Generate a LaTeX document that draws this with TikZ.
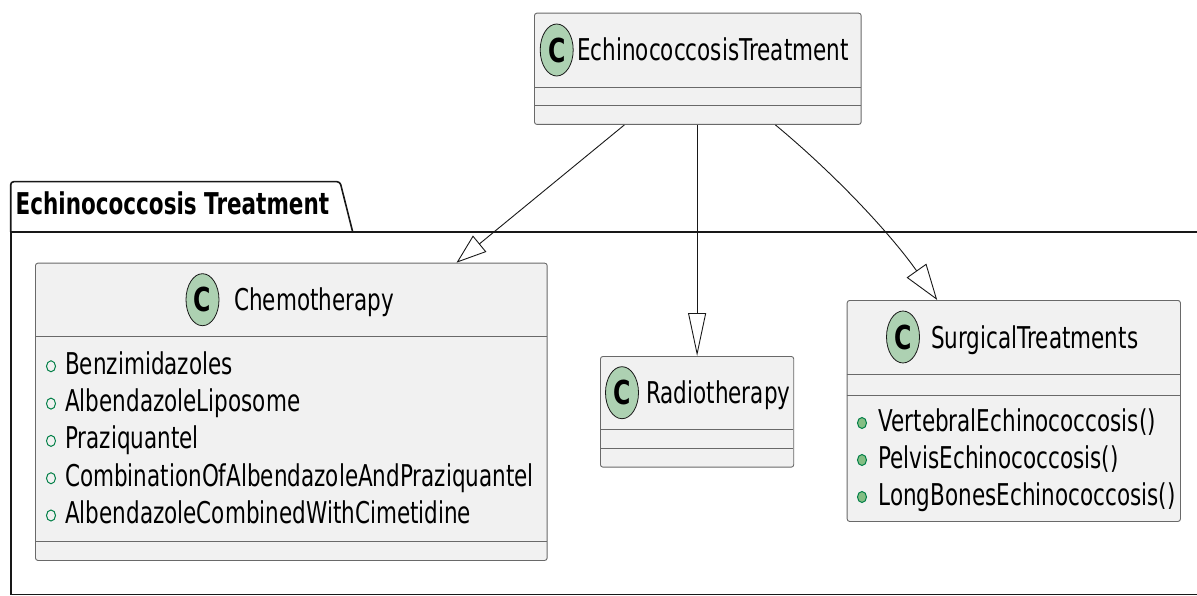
\documentclass[tikz,border=0pt]{standalone}
\usepackage{fontspec}
\newfontfamily\umlfont[FakeStretch=0.717]{DejaVu Sans}
\usetikzlibrary{arrows.meta,shapes.geometric}

\definecolor{boxfill}{HTML}{F1F1F1}
\definecolor{boxline}{HTML}{181818}
\definecolor{iconfill}{HTML}{ADD1B2}
\definecolor{fieldgreen}{HTML}{038048}
\definecolor{methodfill}{HTML}{84BE84}

\begin{document}
\begin{tikzpicture}[x=1pt,y=-1pt,
    classbox/.style={draw=boxline!65,fill=boxfill,line width=0.9pt,rounded corners=2.5pt,
                     anchor=north west,inner sep=0pt},
    sepline/.style={draw=boxline!65,line width=0.9pt},
    ctext/.style={font=\umlfont\fontsize{30}{36}\selectfont,anchor=base west,inner sep=0pt},
    cicon/.style={ellipse,draw=boxline,fill=iconfill,line width=0.8pt,minimum width=33pt,
                  minimum height=52pt,inner sep=0pt,font=\umlfont\bfseries\fontsize{33}{36}\selectfont},
    field/.style={ellipse,draw=fieldgreen,line width=1pt,minimum width=9pt,minimum height=11pt,inner sep=0pt},
    method/.style={field,fill=methodfill},
    pkgline/.style={draw=boxline,line width=1.6pt},
    inherit/.style 2 args={draw=boxline,line width=0.9pt,-{Triangle[open,length=#1,width=#2]}}]
    \useasboundingbox (0,0) rectangle (1197,596);
    \clip (0,0) rectangle (1197,596);

    % Package frame with its tab
    \draw[pkgline] (10.7,232) rectangle (1215,594.5);
    \draw[pkgline,rounded corners=3pt] (10.7,232) -- (10.7,181.7) -- (340,181.7) -- (352.7,232);
    \node[ctext,font=\umlfont\bfseries\fontsize{30}{36}\selectfont] (pkgname) at (15.5,215) {Echinococcosis Treatment};

    % Parent class
    \node[classbox,minimum width=326.7pt,minimum height=111.3pt] (treat) at (534,12.7) {};
    \draw[sepline] (534,87.3) -- (860.7,87.3);
    \draw[sepline] (534,105.7) -- (860.7,105.7);
    \node[cicon] (treaticon) at (556.7,50) {C};
    \node[ctext] (treatname) at (577,61) {EchinococcosisTreatment};

    % Chemotherapy
    \node[classbox,minimum width=511.7pt,minimum height=297.3pt] (chemo) at (35,262.7) {};
    \draw[sepline] (35,336.7) -- (546.7,336.7);
    \draw[sepline] (35,541.7) -- (546.7,541.7);
    \node[cicon] (chemoicon) at (202.5,299.7) {C};
    \node[ctext] (chemoname) at (234,310.7) {Chemotherapy};
    \foreach \drug [count=\i from 0] in {Benzimidazoles,AlbendazoleLiposome,Praziquantel,
        CombinationOfAlbendazoleAndPraziquantel,AlbendazoleCombinedWithCimetidine} {
        \node[field] (chemofield\i) at (51,366.3+37.3*\i) {};
        \node[ctext] (chemoattr\i) at (65,374.3+37.3*\i) {\drug};
    }

    % Radiotherapy
    \node[classbox,minimum width=193.3pt,minimum height=110.7pt] (radio) at (600,356) {};
    \draw[sepline] (600,429.3) -- (793.3,429.3);
    \draw[sepline] (600,448.3) -- (793.3,448.3);
    \node[cicon] (radioicon) at (622,392.7) {C};
    \node[ctext] (radioname) at (646,403.7) {Radiotherapy};

    % Surgical treatments
    \node[classbox,minimum width=333.3pt,minimum height=221pt] (surg) at (846.7,300) {};
    \draw[sepline] (846.7,374) -- (1180,374);
    \draw[sepline] (846.7,395) -- (1180,395);
    \node[cicon] (surgicon) at (903,337) {C};
    \node[ctext] (surgname) at (931,348) {SurgicalTreatments};
    \foreach \op [count=\i from 0] in {VertebralEchinococcosis(),PelvisEchinococcosis(),
        LongBonesEchinococcosis()} {
        \node[method] (surgfield\i) at (862,423+37*\i) {};
        \node[ctext] (surgop\i) at (878.3,431+37*\i) {\op};
    }

    % Generalisations
    \draw[inherit={30pt}{21pt}] ([xshift=-73.4pt]treat.south) -- ([xshift=165.2pt]chemo.north);
    \draw[inherit={43pt}{18pt}] (treat.south -| radio.north) -- (radio.north);
    \draw[inherit={36pt}{24pt}] ([xshift=77.6pt]treat.south) .. controls (837.4,176.4) and (891.3,235) .. ([xshift=-76.6pt]surg.north);
\end{tikzpicture}
\end{document}
